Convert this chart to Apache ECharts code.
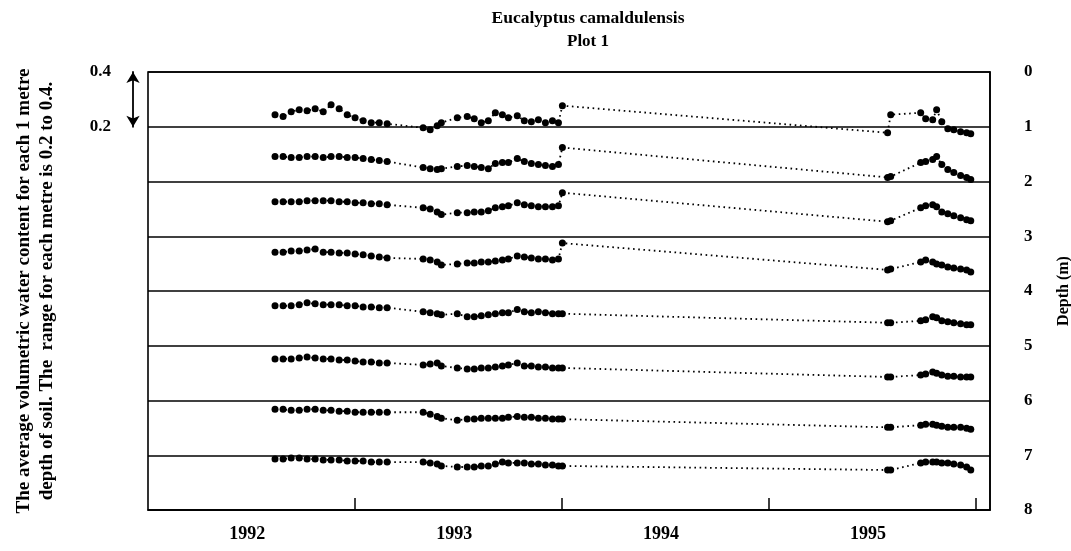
<!DOCTYPE html>
<html>
<head>
<meta charset="utf-8">
<script src="https://cdn.jsdelivr.net/npm/echarts@6.0.0/dist/echarts.min.js"></script>
<style>
  html, body { margin: 0; padding: 0; background: #fff; }
  #chart { width: 1071px; height: 551px; }
</style>
</head>
<body>
<div id="chart"></div>
<script>
// sampling dates (decimal years), same for every metre of soil
var dates = [
  1992.614, 1992.653, 1992.692, 1992.731, 1992.769, 1992.808, 1992.847, 1992.885, 1992.924, 1992.963, 1993.001, 1993.040, 1993.079, 1993.118, 1993.156,
  1993.330, 1993.364, 1993.398, 1993.418, 1993.495, 1993.543, 1993.577, 1993.611, 1993.645, 1993.679, 1993.713, 1993.742, 1993.785, 1993.819, 1993.853, 1993.887, 1993.921, 1993.955, 1993.984, 1994.003,
  1995.575, 1995.590, 1995.735, 1995.759, 1995.793, 1995.812, 1995.837, 1995.866, 1995.895, 1995.928, 1995.957, 1995.977
]

// volumetric water content, one array per metre of depth
var metre1 = [0.244, 0.237, 0.255, 0.262, 0.258, 0.266, 0.255, 0.280, 0.266, 0.244, 0.233, 0.222, 0.215, 0.215, 0.211,
  0.196, 0.189, 0.204, 0.215, 0.233, 0.237, 0.229, 0.215, 0.222, 0.251, 0.244, 0.233, 0.240, 0.222, 0.218, 0.226, 0.215, 0.222, 0.215, 0.277,
  0.178, 0.244, 0.251, 0.229, 0.226, 0.262, 0.218, 0.193, 0.189, 0.182, 0.178, 0.174]
var metre2 = [0.291, 0.291, 0.288, 0.288, 0.291, 0.291, 0.288, 0.291, 0.291, 0.288, 0.288, 0.284, 0.280, 0.277, 0.273,
  0.251, 0.247, 0.244, 0.247, 0.255, 0.258, 0.255, 0.251, 0.247, 0.266, 0.269, 0.269, 0.284, 0.273, 0.266, 0.262, 0.258, 0.255, 0.262, 0.324,
  0.215, 0.218, 0.269, 0.273, 0.280, 0.291, 0.262, 0.244, 0.233, 0.222, 0.215, 0.207]
var metre3 = [0.326, 0.326, 0.326, 0.326, 0.330, 0.330, 0.330, 0.330, 0.326, 0.326, 0.322, 0.322, 0.319, 0.319, 0.315,
  0.304, 0.300, 0.289, 0.279, 0.286, 0.286, 0.289, 0.289, 0.293, 0.304, 0.308, 0.311, 0.322, 0.315, 0.311, 0.308, 0.308, 0.308, 0.311, 0.359,
  0.253, 0.257, 0.304, 0.311, 0.315, 0.308, 0.289, 0.282, 0.275, 0.268, 0.260, 0.257]
var metre4 = [0.342, 0.342, 0.346, 0.346, 0.350, 0.353, 0.342, 0.342, 0.339, 0.339, 0.335, 0.332, 0.328, 0.324, 0.321,
  0.317, 0.313, 0.306, 0.295, 0.299, 0.302, 0.302, 0.306, 0.306, 0.310, 0.313, 0.317, 0.328, 0.324, 0.321, 0.317, 0.317, 0.313, 0.317, 0.375,
  0.277, 0.280, 0.306, 0.313, 0.306, 0.299, 0.295, 0.288, 0.284, 0.280, 0.277, 0.269]
var metre5 = [0.346, 0.346, 0.346, 0.350, 0.357, 0.353, 0.350, 0.350, 0.350, 0.346, 0.346, 0.342, 0.342, 0.339, 0.339,
  0.324, 0.321, 0.317, 0.313, 0.317, 0.306, 0.306, 0.310, 0.313, 0.317, 0.321, 0.321, 0.332, 0.324, 0.321, 0.324, 0.321, 0.317, 0.317, 0.317,
  0.284, 0.284, 0.291, 0.295, 0.306, 0.302, 0.291, 0.288, 0.284, 0.280, 0.277, 0.277]
var metre6 = [0.352, 0.352, 0.352, 0.355, 0.359, 0.355, 0.352, 0.352, 0.348, 0.348, 0.344, 0.341, 0.341, 0.337, 0.337,
  0.330, 0.333, 0.337, 0.326, 0.319, 0.315, 0.315, 0.319, 0.319, 0.322, 0.326, 0.330, 0.337, 0.326, 0.326, 0.322, 0.322, 0.319, 0.319, 0.319,
  0.286, 0.286, 0.293, 0.297, 0.304, 0.300, 0.293, 0.289, 0.289, 0.286, 0.286, 0.286]
var metre7 = [0.368, 0.368, 0.364, 0.364, 0.368, 0.368, 0.364, 0.364, 0.361, 0.361, 0.357, 0.357, 0.357, 0.357, 0.357,
  0.357, 0.350, 0.342, 0.335, 0.328, 0.332, 0.332, 0.335, 0.335, 0.335, 0.335, 0.339, 0.342, 0.339, 0.339, 0.335, 0.335, 0.332, 0.332, 0.332,
  0.302, 0.302, 0.310, 0.313, 0.313, 0.310, 0.306, 0.302, 0.302, 0.302, 0.299, 0.295]
var metre8 = [0.386, 0.386, 0.390, 0.390, 0.386, 0.386, 0.383, 0.383, 0.383, 0.379, 0.379, 0.379, 0.375, 0.375, 0.375,
  0.375, 0.372, 0.368, 0.361, 0.357, 0.357, 0.357, 0.361, 0.361, 0.368, 0.375, 0.372, 0.372, 0.372, 0.368, 0.368, 0.364, 0.364, 0.361, 0.361,
  0.346, 0.346, 0.372, 0.375, 0.375, 0.375, 0.372, 0.372, 0.368, 0.364, 0.357, 0.346]

var layers = [metre1, metre2, metre3, metre4, metre5, metre6, metre7, metre8]
var yearTicks = [1993, 1994, 1995, 1996]
var yearLabels = [1992, 1993, 1994, 1995]

var X_MIN = 1992, X_MAX = 1996.07
var LEFT = 148, RIGHT = 81, TOP = 72, BAND = 54.75
var font = 'Liberation Serif, Times New Roman, serif'

var grids = [{ left: LEFT, right: RIGHT, top: TOP, height: BAND * 8, outerBoundsMode: 'none',
  show: true, borderColor: '#000', borderWidth: 1.6 }]
var xAxes = [{
  gridIndex: 0, type: 'value', min: X_MIN, max: X_MAX, position: 'bottom',
  axisLine: { show: true, onZero: false, lineStyle: { color: '#000', width: 1.6 } },
  axisTick: { show: true, inside: true, length: 12, customValues: yearTicks, lineStyle: { color: '#000', width: 1.5 } },
  axisLabel: {
    customValues: yearLabels.map(function (y) { return y + 0.48 }),
    formatter: function (v) { return String(Math.floor(v)) },
    color: '#000', fontFamily: font, fontWeight: 'bold', fontSize: 18, margin: 15
  },
  splitLine: { show: false }
}]
var yAxes = [{
  gridIndex: 0, type: 'value', position: 'right', inverse: true, min: 0, max: 8, interval: 1,
  axisLine: { show: true, lineStyle: { color: '#000', width: 1.6 } },
  axisTick: { show: false },
  axisLabel: { color: '#000', fontFamily: font, fontWeight: 'bold', fontSize: 17, margin: 34 },
  splitLine: { show: true, lineStyle: { color: '#000', width: 1.6 } },
  name: 'Depth (m)', nameLocation: 'middle', nameRotate: 90, nameGap: 66,
  nameTextStyle: { color: '#000', fontFamily: font, fontWeight: 'bold', fontSize: 16 }
}, {
  gridIndex: 0, type: 'value', position: 'left', min: 0, max: 8,
  axisLine: { show: false }, axisTick: { show: false }, axisLabel: { show: false }, splitLine: { show: false },
  name: 'The average volumetric water content for each 1 metre\ndepth of soil. The  range for each metre is 0.2 to 0.4.',
  nameLocation: 'middle', nameRotate: 90, nameGap: 89,
  nameTextStyle: { color: '#000', fontFamily: font, fontWeight: 'bold', fontSize: 19, lineHeight: 23 }
}]
var series = []

layers.forEach(function (vals, i) {
  var g = i + 1
  grids.push({ left: LEFT, right: RIGHT, top: TOP + BAND * i, height: BAND, outerBoundsMode: 'none' })
  xAxes.push({ gridIndex: g, type: 'value', min: X_MIN, max: X_MAX, show: false })
  var ya = { gridIndex: g, type: 'value', min: 0.2, max: 0.4, show: false }
  if (i === 0) {
    // the 0.2 - 0.4 scale key with double arrow
    ya = {
      gridIndex: g, type: 'value', min: 0.2, max: 0.4, interval: 0.2, position: 'left', offset: 15,
      axisLine: { show: true, symbol: ['arrow', 'arrow'], symbolSize: [10, 11], lineStyle: { color: '#000', width: 1.8 } },
      axisTick: { show: false }, splitLine: { show: false },
      axisLabel: { color: '#000', fontFamily: font, fontWeight: 'bold', fontSize: 17, margin: 22,
        formatter: function (v) { return v.toFixed(1) } }
    }
  }
  yAxes.push(ya)
  series.push({
    type: 'line',
    xAxisIndex: g,
    yAxisIndex: yAxes.length - 1,
    data: dates.map(function (d, k) { return [d, vals[k]] }),
    clip: false,
    symbol: 'circle',
    symbolSize: 7,
    itemStyle: { color: '#000' },
    lineStyle: { color: '#000', width: 1.8, type: [1.6, 3.6] }
  })
})

var myChart = echarts.init(document.getElementById('chart'))
myChart.setOption({
  animation: false,
  backgroundColor: '#fff',
  title: [
    { text: 'Eucalyptus camaldulensis', left: 583, top: 4, textAlign: 'center',
      textStyle: { color: '#000', fontFamily: font, fontWeight: 'bold', fontSize: 17.5 } },
    { text: 'Plot 1', left: 583, top: 28, textAlign: 'center',
      textStyle: { color: '#000', fontFamily: font, fontWeight: 'bold', fontSize: 17 } }
  ],
  grid: grids,
  xAxis: xAxes,
  yAxis: yAxes,
  series: series
})
</script>
</body>
</html>
